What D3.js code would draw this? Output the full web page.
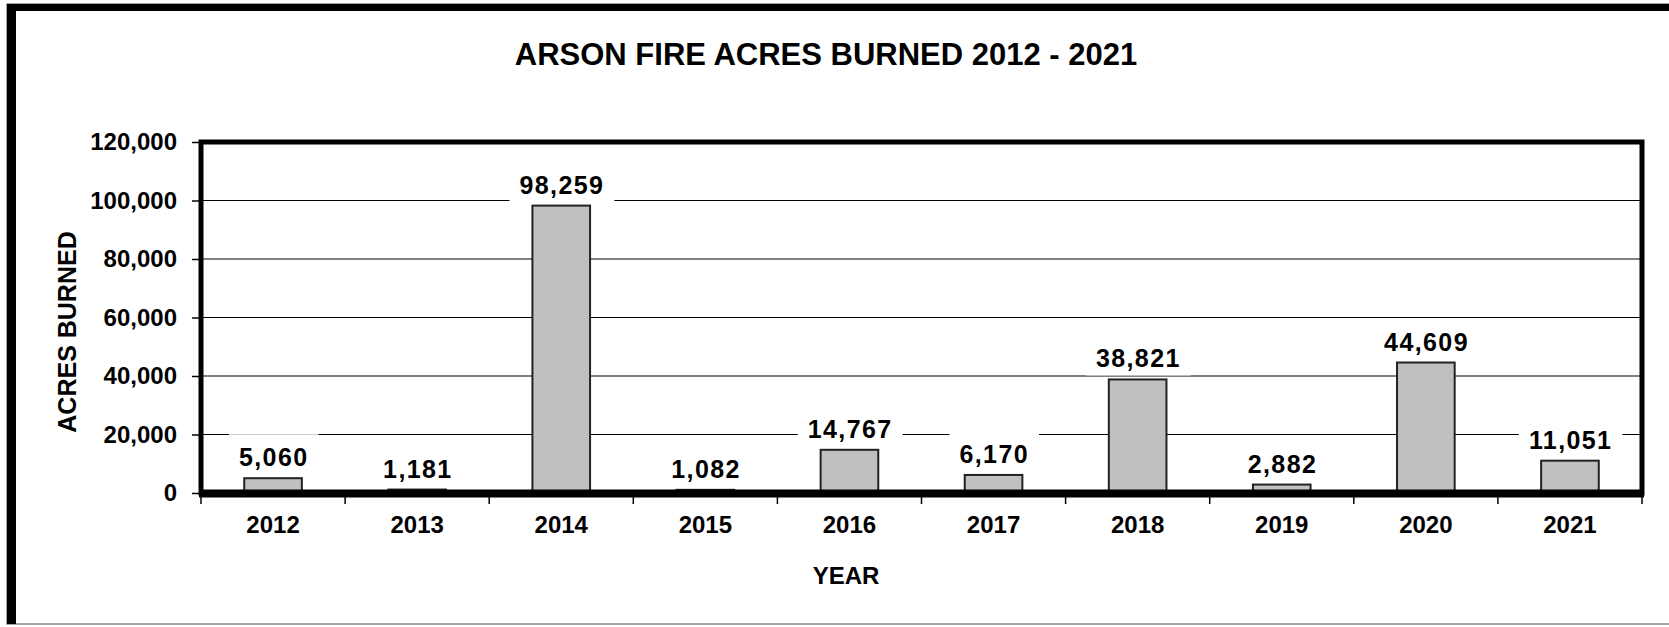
<!DOCTYPE html>
<html>
<head>
<meta charset="utf-8">
<script src="https://cdn.jsdelivr.net/npm/d3@7"></script>
<style>
    body { margin: 0; background: #fff; }
    text { font-family: "Liberation Sans", Arial, sans-serif; font-weight: bold; fill: #000; }
</style>
</head>
<body>
<div id="chart"></div>
<script>
// data
var years = ["2012", "2013", "2014", "2015", "2016", "2017", "2018", "2019", "2020", "2021"];
var acres = [5060, 1181, 98259, 1082, 14767, 6170, 38821, 2882, 44609, 11051];
var yTicks = [0, 20000, 40000, 60000, 80000, 100000, 120000];

function init(){
    var w = 1669;
    var h = 627;
    var left = 201, right = 1642, top = 142, bottom = 493;

    var svg = d3.select("#chart")
                .append("svg")
                .attr("width", w)
                .attr("height", h);

    // outer frame
    svg.append("rect")
        .attr("x", 7).attr("y", 4)
        .attr("width", w + 10).attr("height", 620)
        .attr("fill", "none")
        .attr("stroke", "#888")
        .attr("stroke-width", 1.5);
    svg.append("rect").attr("x", 7).attr("y", 4).attr("width", 9).attr("height", 620).attr("fill", "#000");
    svg.append("rect").attr("x", 7).attr("y", 4).attr("width", w).attr("height", 7).attr("fill", "#000");

    var y = d3.scaleLinear()
              .domain([0, 120000])
              .range([bottom, top]);

    var x = d3.scaleBand()
              .domain(years)
              .range([left, right])
              .paddingInner(0.6)
              .paddingOuter(0.3);

    var step = x.step();

    // gridlines
    svg.selectAll("line.grid")
        .data(yTicks.slice(1, -1))
        .enter()
        .append("line")
        .attr("class", "grid")
        .attr("x1", left).attr("x2", right)
        .attr("y1", function(d){ return y(d); })
        .attr("y2", function(d){ return y(d); })
        .attr("stroke", "#000")
        .attr("stroke-width", 1);

    // y axis
    var yAxis = d3.axisLeft(y)
                  .tickValues(yTicks)
                  .tickSize(9)
                  .tickPadding(15)
                  .tickFormat(d3.format(","));
    var gy = svg.append("g")
                .attr("transform", "translate(" + left + ",0)")
                .call(yAxis);
    gy.select(".domain").remove();
    gy.selectAll(".tick line").attr("stroke", "#000").attr("stroke-width", 1.5);
    gy.selectAll(".tick text")
        .attr("font-size", "24px")
        .attr("font-family", "Liberation Sans, Arial, sans-serif")
        .attr("font-weight", "bold")
        .attr("fill", "#000");

    // x axis ticks sit on category boundaries
    svg.selectAll("line.xtick")
        .data(d3.range(years.length + 1))
        .enter()
        .append("line")
        .attr("class", "xtick")
        .attr("x1", function(d){ return left + d * step; })
        .attr("x2", function(d){ return left + d * step; })
        .attr("y1", bottom)
        .attr("y2", bottom + 11)
        .attr("stroke", "#000")
        .attr("stroke-width", 1.5);

    svg.selectAll("text.xlab")
        .data(years)
        .enter()
        .append("text")
        .attr("class", "xlab")
        .text(function(d){ return d; })
        .attr("x", function(d){ return x(d) + x.bandwidth() / 2; })
        .attr("y", 533)
        .attr("text-anchor", "middle")
        .attr("font-size", "24px");

    // bars
    svg.selectAll("rect.bar")
        .data(acres)
        .enter()
        .append("rect")
        .attr("class", "bar")
        .attr("x", function(d, i){ return x(years[i]); })
        .attr("y", function(d){ return y(d); })
        .attr("width", x.bandwidth())
        .attr("height", function(d){ return bottom - y(d); })
        .attr("fill", "#c0c0c0")
        .attr("stroke", "#222")
        .attr("stroke-width", 2);

    // plot frame, thick like the original
    svg.append("path")
        .attr("d", "M" + left + "," + bottom + "V" + top + "H" + right + "V" + bottom + "Z")
        .attr("fill", "none")
        .attr("stroke", "#000")
        .attr("stroke-width", 5);
    svg.append("line")
        .attr("x1", left - 2).attr("x2", right + 2)
        .attr("y1", bottom + 0.5).attr("y2", bottom + 0.5)
        .attr("stroke", "#000")
        .attr("stroke-width", 8);

    // value labels with white boxes
    var fmt = d3.format(",");
    var labels = svg.selectAll("g.vlab")
        .data(acres)
        .enter()
        .append("g")
        .attr("class", "vlab")
        .attr("transform", function(d, i){
            return "translate(" + (x(years[i]) + x.bandwidth() / 2) + "," + (y(d) - 12) + ")";
        });
    labels.append("rect")
        .attr("fill", "#fff");
    labels.append("text")
        .text(function(d){ return fmt(d); })
        .attr("text-anchor", "middle")
        .attr("font-size", "25px")
        .attr("letter-spacing", "1.4px")
        .attr("dx", 0.7);
    labels.each(function(){
        var g = d3.select(this);
        var bb = g.select("text").node().getBBox();
        g.select("rect")
            .attr("x", bb.x - 10)
            .attr("y", -32)
            .attr("width", bb.width + 20)
            .attr("height", 32 + 8);
    });

    // titles
    svg.append("text")
        .text("ARSON FIRE ACRES BURNED 2012 - 2021")
        .attr("x", 826).attr("y", 65)
        .attr("text-anchor", "middle")
        .attr("font-size", "31px");

    svg.append("text")
        .text("YEAR")
        .attr("x", 846).attr("y", 584)
        .attr("text-anchor", "middle")
        .attr("font-size", "24px");

    svg.append("text")
        .text("ACRES BURNED")
        .attr("transform", "translate(76,332) rotate(-90)")
        .attr("text-anchor", "middle")
        .attr("font-size", "25px");
}
window.onload = init;
</script>
</body>
</html>
